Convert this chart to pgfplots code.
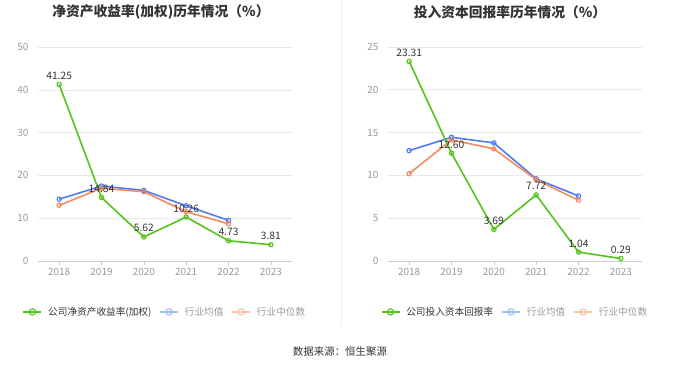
\documentclass[border=0pt]{standalone}
\usepackage{pgfplots}
\pgfplotsset{compat=1.18}
\usepackage{fontspec}
\setmainfont{Noto Sans CJK SC}
\definecolor{cgreen}{HTML}{52C41A}
\definecolor{cblue}{HTML}{4E7CF0}
\definecolor{corange}{HTML}{F5895F}
\definecolor{lblue}{HTML}{A3BDF7}
\definecolor{lorange}{HTML}{F9C2AB}
\definecolor{gridc}{HTML}{E6E9F4}
\definecolor{tickc}{HTML}{999999}
\definecolor{axc}{HTML}{CCCCCC}
\definecolor{txt}{HTML}{333333}
\pgfplotsset{
  mystyle/.style={
    scale only axis, width=254bp, height=214bp, anchor=south west,
    xmin=-0.5, xmax=5.5, ymin=0,
    xtick={0,1,2,3,4,5}, xticklabels={2018,2019,2020,2021,2022,2023},
    axis x line*=bottom, axis y line*=left,
    x axis line style={axc, line width=0.8pt},
    y axis line style={draw=none},
    xtick style={axc}, ytick style={draw=none}, major tick length=4bp, tick align=outside,
    ymajorgrids, grid style={gridc, line width=0.6pt},
    ticklabel style={font=\fontsize{10}{11}\selectfont, text=tickc},
    yticklabel style={xshift=-2bp},
    /pgf/number format/assume math mode=true,
    every axis plot/.append style={line width=1.6pt, mark=o, mark size=2.2pt, mark options={fill=white, line width=1.1pt}},
    legend style={draw=none, fill=none, at={(0.5,-0.238)}, anchor=center, font=\fontsize{9.7}{12}\selectfont, column sep=4bp,
      /tikz/every even column/.append style={column sep=6bp}},
    legend columns=3,
    legend image code/.code={\draw[#1, mark repeat=2, mark phase=2] plot coordinates {(0bp,0bp) (9bp,0bp) (18bp,0bp)};},
    clip=false,
  },
  lbl/.style={nodes near coords, point meta=explicit symbolic, every node near coord/.append style={font=\fontsize{10.3}{11}\selectfont, text=txt, anchor=south, yshift=1bp}},
}
\begin{document}
\begin{tikzpicture}[x=1bp,y=1bp]
\path[use as bounding box] (0,0) rectangle (680,367);
\draw[color=gridc!70, line width=0.8pt] (341,367) -- (341,40);
\node[font=\fontsize{13.8}{15}\selectfont\bfseries, text=txt] at (161,355) {净资产收益率(加权)历年情况（\%）};
\node[font=\fontsize{13.8}{15}\selectfont\bfseries, text=txt] at (510,355) {投入资本回报率历年情况（\%）};
\node[font=\fontsize{10.5}{12}\selectfont, text=txt] at (340,15) {数据来源：恒生聚源};

\begin{axis}[mystyle, at={(38bp,106bp)}, ymax=50, ytick={0,10,20,30,40,50}]
\addlegendimage{cgreen, line width=1.5pt, mark=o, mark size=3.2pt, mark options={fill=white, line width=1.1pt}}
\addlegendentry{\textcolor{txt}{公司净资产收益率(加权)}}
\addlegendimage{lblue, line width=1.5pt, mark=o, mark size=3.2pt, mark options={fill=white, line width=1.1pt}}
\addlegendentry{\textcolor{tickc}{行业均值}}
\addlegendimage{lorange, line width=1.5pt, mark=o, mark size=3.2pt, mark options={fill=white, line width=1.1pt}}
\addlegendentry{\textcolor{tickc}{行业中位数}}
\addplot[cblue, forget plot] coordinates {(0,14.45) (1,17.5) (2,16.5) (3,12.9) (4,9.5)};
\addplot[corange, forget plot] coordinates {(0,13.0) (1,17.0) (2,16.2) (3,11.5) (4,8.7)};
\addplot[cgreen, lbl, forget plot] coordinates {(0,41.25)[41.25] (1,14.84)[14.84] (2,5.62)[5.62] (3,10.26)[10.26] (4,4.73)[4.73] (5,3.81)[3.81]};
\end{axis}

\begin{axis}[mystyle, at={(388bp,106bp)}, ymax=25, ytick={0,5,10,15,20,25}]
\addlegendimage{cgreen, line width=1.5pt, mark=o, mark size=3.2pt, mark options={fill=white, line width=1.1pt}}
\addlegendentry{\textcolor{txt}{公司投入资本回报率}}
\addlegendimage{lblue, line width=1.5pt, mark=o, mark size=3.2pt, mark options={fill=white, line width=1.1pt}}
\addlegendentry{\textcolor{tickc}{行业均值}}
\addlegendimage{lorange, line width=1.5pt, mark=o, mark size=3.2pt, mark options={fill=white, line width=1.1pt}}
\addlegendentry{\textcolor{tickc}{行业中位数}}
\addplot[cblue, forget plot] coordinates {(0,12.9) (1,14.45) (2,13.8) (3,9.6) (4,7.6)};
\addplot[corange, forget plot] coordinates {(0,10.2) (1,14.15) (2,13.1) (3,9.5) (4,7.1)};
\addplot[cgreen, lbl, forget plot] coordinates {(0,23.31)[23.31] (1,12.60)[12.60] (2,3.69)[3.69] (3,7.72)[7.72] (4,1.04)[1.04] (5,0.29)[0.29]};
\end{axis}
\end{tikzpicture}
\end{document}
